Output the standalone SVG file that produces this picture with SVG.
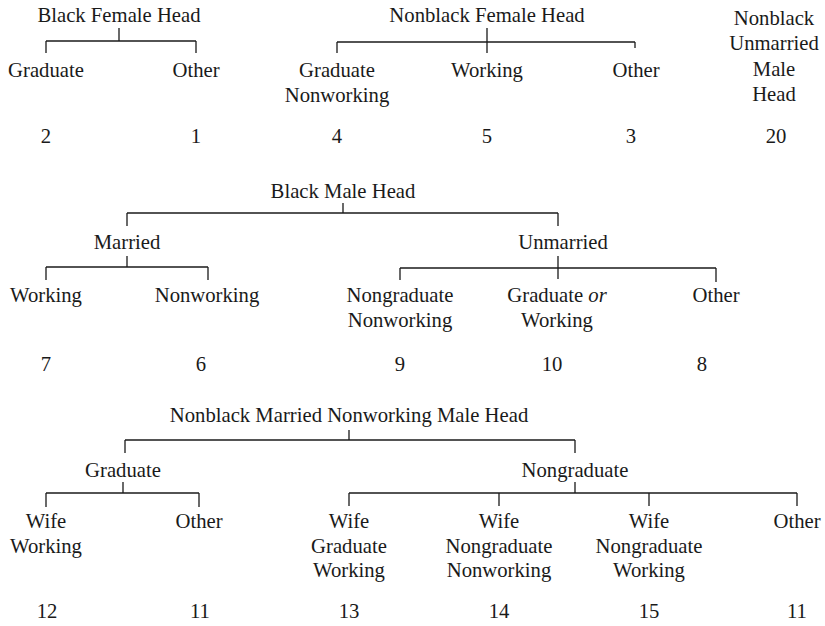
<svg xmlns="http://www.w3.org/2000/svg" width="825" height="626" viewBox="0 0 825 626">
<style>
text{font-family:"Liberation Serif","Times New Roman",serif;font-size:20.7px;fill:#1a1a1a;text-anchor:middle}
.c line{stroke:#1a1a1a;stroke-width:1.3;fill:none}
</style>
<rect width="825" height="626" fill="#fff"/>
<g class="c" id="connectors">
<!-- Black Female Head -->
<line x1="119" y1="28" x2="119" y2="41"/><line x1="46" y1="41" x2="196" y2="41"/>
<line x1="46" y1="41" x2="46" y2="53"/><line x1="196" y1="41" x2="196" y2="53"/>
<!-- Nonblack Female Head -->
<line x1="487" y1="28" x2="487" y2="53"/><line x1="337" y1="42" x2="635" y2="42"/>
<line x1="337" y1="42" x2="337" y2="53"/><line x1="635" y1="42" x2="635" y2="48"/>
<!-- Black Male Head -->
<line x1="343" y1="203" x2="343" y2="213"/><line x1="127" y1="213" x2="558" y2="213"/>
<line x1="127" y1="213" x2="127" y2="226"/><line x1="558" y1="213" x2="558" y2="226"/>
<!-- Married -->
<line x1="127" y1="256" x2="127" y2="267"/><line x1="46" y1="267" x2="208" y2="267"/>
<line x1="46" y1="267" x2="46" y2="280"/><line x1="208" y1="267" x2="208" y2="280"/>
<!-- Unmarried -->
<line x1="558" y1="256" x2="558" y2="279"/><line x1="400" y1="268" x2="716" y2="268"/>
<line x1="400" y1="268" x2="400" y2="280"/><line x1="716" y1="268" x2="716" y2="282"/>
<!-- Nonblack Married Nonworking Male Head -->
<line x1="349" y1="430" x2="349" y2="440"/><line x1="125" y1="440" x2="575" y2="440"/>
<line x1="125" y1="440" x2="125" y2="453"/><line x1="575" y1="440" x2="575" y2="453"/>
<!-- Graduate -->
<line x1="123" y1="482" x2="123" y2="493"/><line x1="46" y1="493" x2="199" y2="493"/>
<line x1="46" y1="493" x2="46" y2="507"/><line x1="199" y1="493" x2="199" y2="507"/>
<!-- Nongraduate -->
<line x1="575" y1="482" x2="575" y2="493"/><line x1="349" y1="493" x2="797" y2="493"/>
<line x1="349" y1="493" x2="349" y2="506"/><line x1="499" y1="493" x2="499" y2="506"/>
<line x1="649" y1="493" x2="649" y2="506"/><line x1="797" y1="493" x2="797" y2="506"/>
</g>

<g id="black-female-head"><text x="119" y="22">Black Female Head</text></g>
<g id="bfh-graduate"><text x="46" y="77">Graduate</text><text x="46" y="143">2</text></g>
<g id="bfh-other"><text x="196" y="77">Other</text><text x="196" y="143">1</text></g>

<g id="nonblack-female-head"><text x="487" y="22">Nonblack Female Head</text></g>
<g id="nfh-graduate-nonworking"><text x="337" y="77">Graduate</text><text x="337" y="102">Nonworking</text><text x="337" y="143">4</text></g>
<g id="nfh-working"><text x="487" y="77">Working</text><text x="487" y="143">5</text></g>
<g id="nfh-other"><text x="636" y="77">Other</text><text x="631" y="143">3</text></g>

<g id="nonblack-unmarried-male-head"><text x="774" y="25">Nonblack</text><text x="774" y="50">Unmarried</text><text x="774" y="76">Male</text><text x="774" y="101">Head</text><text x="776" y="143">20</text></g>

<g id="black-male-head"><text x="343" y="198">Black Male Head</text></g>
<g id="bmh-married"><text x="127" y="249">Married</text></g>
<g id="bmh-m-working"><text x="46" y="302">Working</text><text x="46" y="371">7</text></g>
<g id="bmh-m-nonworking"><text x="207" y="302">Nonworking</text><text x="201" y="371">6</text></g>
<g id="bmh-unmarried"><text x="563" y="249">Unmarried</text></g>
<g id="bmh-u-nongrad-nonworking"><text x="400" y="302">Nongraduate</text><text x="400" y="327">Nonworking</text><text x="400" y="371">9</text></g>
<g id="bmh-u-grad-or-working"><text x="557" y="302">Graduate <tspan font-style="italic">or</tspan></text><text x="557" y="327">Working</text><text x="552" y="371">10</text></g>
<g id="bmh-u-other"><text x="716" y="302">Other</text><text x="702" y="371">8</text></g>

<g id="nonblack-married-nonworking-male-head"><text x="349" y="422">Nonblack Married Nonworking Male Head</text></g>
<g id="nmh-graduate"><text x="123" y="477">Graduate</text></g>
<g id="nmh-g-wife-working"><text x="46" y="528">Wife</text><text x="46" y="553">Working</text><text x="47" y="618">12</text></g>
<g id="nmh-g-other"><text x="199" y="528">Other</text><text x="200" y="618">11</text></g>
<g id="nmh-nongraduate"><text x="575" y="477">Nongraduate</text></g>
<g id="nmh-n-wife-grad-working"><text x="349" y="528">Wife</text><text x="349" y="553">Graduate</text><text x="349" y="577">Working</text><text x="349" y="618">13</text></g>
<g id="nmh-n-wife-nongrad-nonworking"><text x="499" y="528">Wife</text><text x="499" y="553">Nongraduate</text><text x="499" y="577">Nonworking</text><text x="499" y="618">14</text></g>
<g id="nmh-n-wife-nongrad-working"><text x="649" y="528">Wife</text><text x="649" y="553">Nongraduate</text><text x="649" y="577">Working</text><text x="649" y="618">15</text></g>
<g id="nmh-n-other"><text x="797" y="528">Other</text><text x="797" y="618">11</text></g>
</svg>
